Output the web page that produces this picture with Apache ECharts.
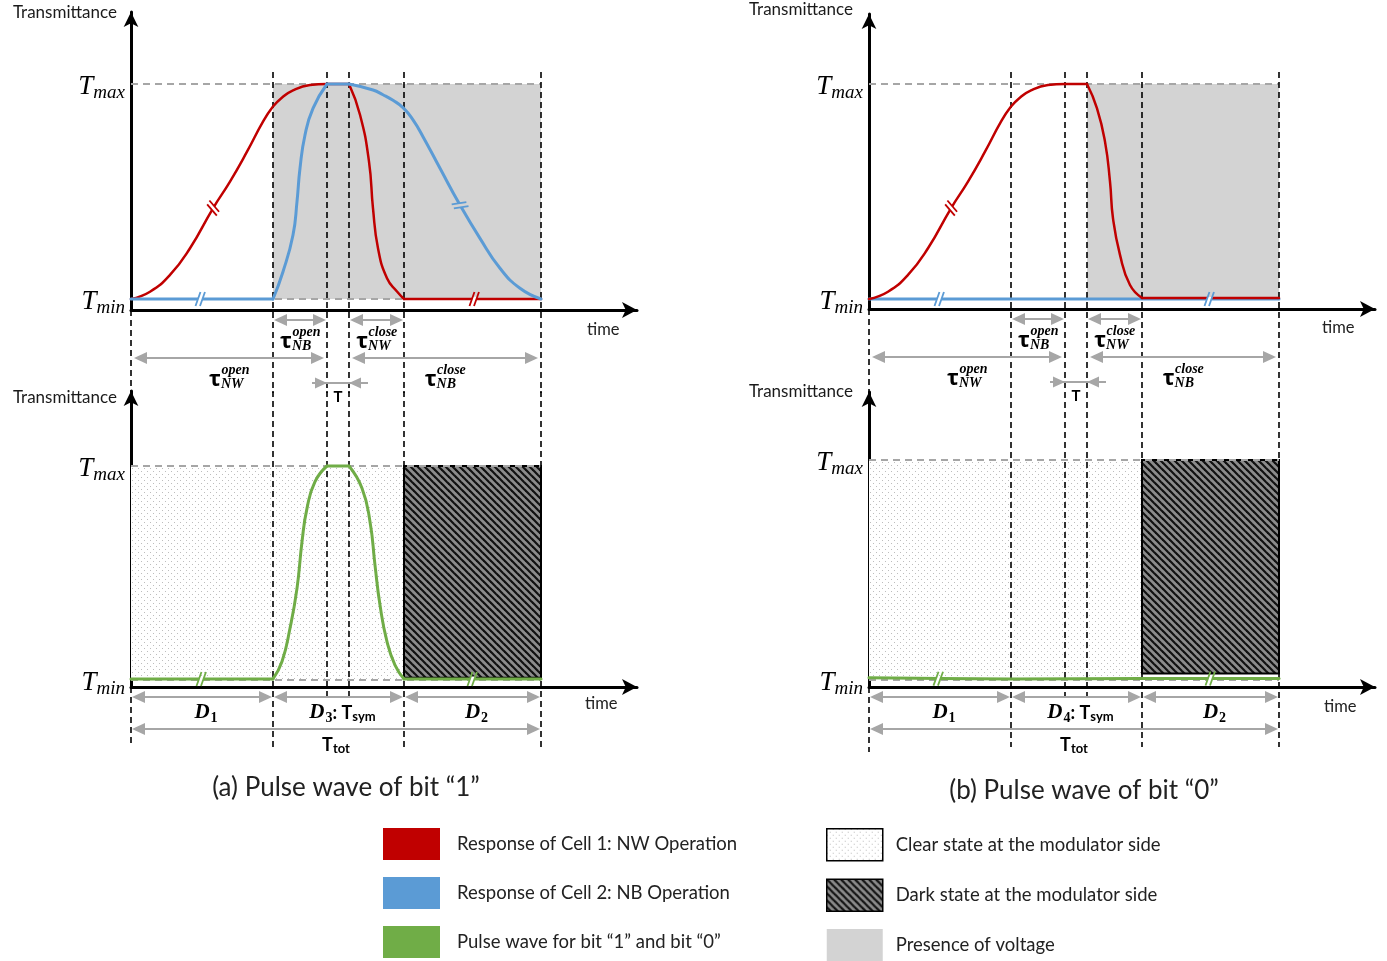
<!DOCTYPE html>
<html>
<head>
<meta charset="utf-8">
<title>Pulse waves</title>
<script src="https://cdn.jsdelivr.net/npm/echarts@6.0.0/dist/echarts.min.js"></script>
<style>
html, body { margin: 0; padding: 0; background: #fff; }
#chart { width: 1387px; height: 961px; }
</style>
</head>
<body>
<div id="chart"></div>
<script>
// time in arbitrary units, transmittance in % of the range (0 = T_min, 100 = T_max)
var timeMarks = [0, 142, 196, 218, 273, 410];
var timeEnd = 506;

// (a) bit "1"
var nwCurveA = [[0, 0], [19, 3.4], [39, 11.2], [59, 23.6], [82, 42.2], [99, 54.6], [116, 68.5], [132, 82.5], [142, 89.5], [150, 93.3], [162, 97], [179, 99.5], [196, 100],
	[218, 100], [229, 85.7], [238, 63.9], [242, 42.2], [247, 23.6], [256, 9.6], [266, 3.5], [273, 0], [410, 0]];
var nbCurveA = [[0, 0], [142, 0], [152, 12.7], [162, 29.8], [166, 45.3], [169, 60.8], [174, 76.3], [182, 88.7], [196, 100],
	[218, 100], [242, 97.2], [252, 95], [262, 92.4], [272, 89], [282, 83.3], [292, 75.5], [309, 60.8], [329, 43.7], [349, 28.2], [369, 14.3], [389, 5], [410, 0]];
var pulseA = [[0, 0.5], [142, 0.5], [151, 8.6], [159, 24.2], [166, 42.8], [171, 64.6], [176, 80.2], [184, 92.7], [196, 100],
	[218, 100], [231, 89.6], [239, 74], [244, 53.7], [249, 35], [256, 17.9], [264, 7], [273, 0.5], [410, 0.5]];
// (b) bit "0"
var nwCurveB = [[0, 0], [19, 3.4], [39, 11.2], [59, 23.6], [82, 42.2], [99, 54.6], [116, 68.5], [132, 82.5], [142, 89.5], [150, 93.3], [162, 97], [179, 99.5], [196, 100],
	[218, 100], [228, 88.7], [236, 73.2], [241, 54.6], [244, 37.5], [251, 20.5], [261, 6.5], [273, 0.5], [410, 0.5]];
var nbCurveB = [[0, 0], [410, 0]];
var pulseB = [[0, 1], [142, 0.5], [273, 0.7], [410, 0.7]];

// regions: [from, to, low, high]
var voltageA = [[142, 410, 0, 100]];
var voltageB = [[218, 410, 0, 100]];
var clearA = [[0, 273, 0, 100]];
var clearB = [[0, 273, 0, 100]];
var darkA = [[273, 410, 1, 100]];
var darkB = [[273, 410, 3, 100]];
var levels = [0, 100];

// break marks on the curves: [time, value]
var breaksNwA = [[82, 42.2], [343, 0]];
var breaksNbA = [[69, 0], [329, 43.7]];
var breaksPulseA = [[70, 0.5], [341, 0.5]];
var breaksNwB = [[82, 42.2]];
var breaksNbB = [[70, 0], [340, 0]];
var breaksPulseB = [[69, 0.6], [341, 0.7]];

// annotations
var tauSpans = [[142, 196], [218, 273], [0, 196], [218, 410]];
var tauSups = ['open', 'close', 'open', 'close'];
var tauSubs = ['NB', 'NW', 'NW', 'NB'];
var symbolSpan = [[196, 218]];
var dSpans = [[0, 142], [142, 273], [273, 410]];
var dIndexA = ['1', '3', '2'];
var dIndexB = ['1', '4', '2'];
var totalSpan = [[0, 410]];

var NAMES = {
	nw: 'Response of Cell 1: NW Operation',
	nb: 'Response of Cell 2: NB Operation',
	pulse: 'Pulse wave for bit \u201c1\u201d and bit \u201c0\u201d',
	clear: 'Clear state at the modulator side',
	dark: 'Dark state at the modulator side',
	volt: 'Presence of voltage'
};

var FONT = 'Lato';
var SERIF = 'Liberation Serif';
var RED = '#c00000', BLUE = '#5b9bd5', GREEN = '#70ad47', VOLT = '#d3d3d3', GUIDE = '#a6a6a6';

// pixel layout of the four panels
var panels = [
	{ left: 131, axisY: 310, tminY: 299, tmaxY: 84, tipY: 12, nameX: 117, nameY: 13, timeX: 587, timeY: 331 },
	{ left: 131, axisY: 687, tminY: 680, tmaxY: 466, tipY: 391, nameX: 117, nameY: 398, timeX: 585, timeY: 705 },
	{ left: 869, axisY: 309, tminY: 299, tmaxY: 84, tipY: 14, nameX: 853, nameY: 10, timeX: 1322, timeY: 329 },
	{ left: 869, axisY: 687, tminY: 680, tmaxY: 460, tipY: 392, nameX: 853, nameY: 392, timeX: 1324, timeY: 708 }
];
var AXIS_W = 506;
panels.forEach(function(p) {
	p.ppu = (p.tminY - p.tmaxY) / 100;
	p.top = p.tipY;
	p.height = p.axisY - p.top;
	p.yMin = -(p.axisY - p.tminY) / p.ppu;
	p.yMax = (p.tminY - p.top) / p.ppu;
});

function makePattern(size, bg, draw) {
	var c = document.createElement('canvas');
	c.width = c.height = size;
	var ctx = c.getContext('2d');
	ctx.fillStyle = bg;
	ctx.fillRect(0, 0, size, size);
	draw(ctx, size);
	return { image: c, repeat: 'repeat' };
}
var dotFill = makePattern(6, '#ffffff', function(ctx) {
	ctx.fillStyle = '#bdbdbd';
	ctx.fillRect(0, 0, 1, 1);
	ctx.fillRect(3, 3, 1, 1);
});
var hatchFill = makePattern(7, '#8c8c8c', function(ctx, s) {
	ctx.strokeStyle = '#111';
	ctx.lineWidth = 2.2;
	[-s, 0, s].forEach(function(o) {
		ctx.beginPath();
		ctx.moveTo(o - 1, -1);
		ctx.lineTo(o + s + 1, s + 1);
		ctx.stroke();
	});
});

var measureCtx = document.createElement('canvas').getContext('2d');
function textWidth(str, font) {
	measureCtx.font = font;
	return measureCtx.measureText(str).width;
}

// split a curve where it turns flat so every piece is smoothed on its own
function pieces(curve) {
	var out = [], cur = [curve[0]];
	for (var k = 1; k < curve.length; k++) {
		var flat = curve[k][1] === curve[k - 1][1];
		var prevFlat = cur.length > 1 && cur[cur.length - 1][1] === cur[cur.length - 2][1];
		if (cur.length > 1 && flat !== prevFlat) {
			out.push(cur);
			cur = [curve[k - 1]];
		}
		cur.push(curve[k]);
	}
	out.push(cur);
	return out;
}

function arrowShapes(x1, x2, y, headL, headW) {
	return [
		{ type: 'line', shape: { x1: x1 + headL - 1, y1: y, x2: x2 - headL + 1, y2: y }, style: { stroke: GUIDE, lineWidth: 2 } },
		{ type: 'polygon', shape: { points: [[x1, y], [x1 + headL, y - headW], [x1 + headL, y + headW]] }, style: { fill: GUIDE } },
		{ type: 'polygon', shape: { points: [[x2, y], [x2 - headL, y - headW], [x2 - headL, y + headW]] }, style: { fill: GUIDE } }
	];
}

var tauFont = 'bold 22px "Open Sans"';
var smallFont = 'italic bold 14px "Liberation Serif"';
function tauLabel(cx, y, sup, sub) {
	var wT = textWidth('\u03c4', tauFont);
	var wS = Math.max(textWidth(sup, smallFont), textWidth(sub, smallFont));
	var left = cx - (wT + wS) / 2;
	return [
		{ type: 'text', style: { text: '\u03c4', x: left, y: y + 22, font: tauFont, fill: '#000', align: 'left', verticalAlign: 'middle' } },
		{ type: 'text', style: { text: sup, x: left + wT + 0.5, y: y + 12, font: smallFont, fill: '#000', align: 'left', verticalAlign: 'middle' } },
		{ type: 'text', style: { text: sub, x: left + wT, y: y + 26, font: smallFont, fill: '#000', align: 'left', verticalAlign: 'middle' } }
	];
}

var mathRich = {
	d: { fontFamily: SERIF, fontStyle: 'italic', fontWeight: 'bold', fontSize: 21, fill: '#000' },
	n: { fontFamily: SERIF, fontWeight: 'bold', fontSize: 14, fill: '#000', padding: [10, 0, 0, 1] },
	c: { fontFamily: FONT, fontWeight: 'bold', fontSize: 18, fill: '#000' },
	cs: { fontFamily: FONT, fontWeight: 'bold', fontSize: 13, fill: '#000', padding: [7, 0, 0, 0] }
};

function regionSeries(i, name, rects, fill, stroke) {
	return {
		type: 'custom', name: name, xAxisIndex: i, yAxisIndex: i, data: rects, z: 1, silent: true,
		itemStyle: { color: fill }, encode: { x: [0, 1], y: [2, 3] },
		renderItem: function(params, api) {
			var a = api.coord([api.value(0), api.value(3)]);
			var b = api.coord([api.value(1), api.value(2)]);
			return {
				type: 'rect',
				shape: { x: a[0], y: a[1], width: b[0] - a[0], height: b[1] - a[1] },
				style: { fill: fill, stroke: stroke || null, lineWidth: stroke ? 2 : 0 }
			};
		}
	};
}

function levelSeries(i) {
	return {
		type: 'custom', xAxisIndex: i, yAxisIndex: i, z: 2, silent: true,
		data: levels.map(function(v) { return [timeMarks[0], timeMarks[5], v]; }),
		encode: { x: [0, 1], y: 2 },
		renderItem: function(params, api) {
			var a = api.coord([api.value(0), api.value(2)]);
			var b = api.coord([api.value(1), api.value(2)]);
			return { type: 'line', shape: { x1: a[0], y1: a[1], x2: b[0], y2: b[1] }, style: { stroke: GUIDE, lineWidth: 1.8, lineDash: [7, 5] } };
		}
	};
}

function verticalSeries(i) {
	var p = panels[i];
	var isTop = i % 2 === 0;
	return {
		type: 'custom', xAxisIndex: i, yAxisIndex: i, z: 3, silent: true, clip: false,
		data: timeMarks.map(function(t) { return [t, 0]; }),
		renderItem: function(params, api) {
			var t = api.value(0);
			var x = api.coord([t, 0])[0];
			var y1, y2;
			if (isTop) {
				y1 = t === timeMarks[0] ? p.axisY : api.coord([t, 100])[1] - 12;
				y2 = p.axisY + 83;
			} else {
				y1 = t === timeMarks[0] ? p.axisY : p.top;
				var inner = t === timeMarks[2] || t === timeMarks[3];
				y2 = p.axisY + (inner ? 10 : (t === timeMarks[0] && i === 3 ? 65 : 60));
			}
			return { type: 'line', shape: { x1: x, y1: y1, x2: x, y2: y2 }, style: { stroke: '#000', lineWidth: 1.6, lineDash: [6, 4] } };
		}
	};
}

function curveSeries(i, name, curve, color, width, z) {
	return pieces(curve).map(function(seg) {
		return {
			type: 'line', name: name, xAxisIndex: i, yAxisIndex: i, data: seg, z: z,
			smooth: 0.5, symbol: 'none', silent: true,
			lineStyle: { color: color, width: width, cap: 'round', join: 'round' }, itemStyle: { color: color }
		};
	});
}

function breakSeries(i, curve, points, color, width, voltage) {
	return {
		type: 'custom', xAxisIndex: i, yAxisIndex: i, data: points, z: 6, silent: true, clip: false,
		renderItem: function(params, api) {
			var t = api.value(0), v = api.value(1);
			var p = api.coord([t, v]);
			var k = 1;
			while (k < curve.length - 1 && curve[k][0] < t) k++;
			var a = api.coord(curve[k - 1]), b = api.coord(curve[k]);
			var ang = Math.atan2(b[1] - a[1], b[0] - a[0]);
			var inVolt = voltage && voltage.some(function(r) { return t >= r[0] && t <= r[1] && v > 2; });
			var h = width / 2 + 1;
			var gap = 4.5;
			var xs = function(y) { return -gap + (7 - y) * gap / 14 * 1.1; };
			return {
				type: 'group', x: p[0], y: p[1], rotation: -ang,
				children: [
					{ type: 'polygon', shape: { points: [[xs(h), h], [xs(-h), -h], [xs(-h) + gap, -h], [xs(h) + gap, h]] }, style: { fill: inVolt ? VOLT : '#fff' } },
					{ type: 'line', shape: { x1: xs(7), y1: 7, x2: xs(-7), y2: -7 }, style: { stroke: color, lineWidth: 1.8 } },
					{ type: 'line', shape: { x1: xs(7) + gap, y1: 7, x2: xs(-7) + gap, y2: -7 }, style: { stroke: color, lineWidth: 1.8 } }
				]
			};
		}
	};
}

function tauSeries(i) {
	var p = panels[i];
	var rows = [10, 10, 48, 48];
	var insets = [1, 1, 3, 3];
	return {
		type: 'custom', xAxisIndex: i, yAxisIndex: i, data: tauSpans, z: 3, silent: true, clip: false,
		renderItem: function(params, api) {
			var k = params.dataIndex;
			var x1 = api.coord([api.value(0), 0])[0] + insets[k];
			var x2 = api.coord([api.value(1), 0])[0] - insets[k];
			var y = p.axisY + rows[k];
			return { type: 'group', children: arrowShapes(x1, x2, y, 13, 6).concat(tauLabel((x1 + x2) / 2, y, tauSups[k], tauSubs[k])) };
		}
	};
}

function symbolSeries(i) {
	var p = panels[i];
	return {
		type: 'custom', xAxisIndex: i, yAxisIndex: i, data: symbolSpan, z: 3, silent: true, clip: false,
		renderItem: function(params, api) {
			var x1 = api.coord([api.value(0), 0])[0];
			var x2 = api.coord([api.value(1), 0])[0];
			var y = p.axisY + 73;
			return {
				type: 'group',
				children: [
					{ type: 'line', shape: { x1: x1 - 15, y1: y, x2: x2 + 19, y2: y }, style: { stroke: GUIDE, lineWidth: 2 } },
					{ type: 'polygon', shape: { points: [[x1, y], [x1 - 12, y - 5.5], [x1 - 12, y + 5.5]] }, style: { fill: GUIDE } },
					{ type: 'polygon', shape: { points: [[x2, y], [x2 + 12, y - 5.5], [x2 + 12, y + 5.5]] }, style: { fill: GUIDE } },
					{ type: 'text', style: { text: 'T', x: (x1 + x2) / 2, y: y + 14, font: 'bold 15px Lato', fill: '#000', align: 'center', verticalAlign: 'middle' } }
				]
			};
		}
	};
}

function dSeries(i, idx) {
	var p = panels[i];
	return {
		type: 'custom', xAxisIndex: i, yAxisIndex: i, data: dSpans, z: 3, silent: true, clip: false,
		renderItem: function(params, api) {
			var k = params.dataIndex;
			var x1 = api.coord([api.value(0), 0])[0] + 1;
			var x2 = api.coord([api.value(1), 0])[0] - 1;
			var y = p.axisY + 10;
			var txt = '{d|D}{n|' + idx[k] + '}' + (k === 1 ? '{c|: T}{cs|sym}' : '');
			return {
				type: 'group',
				children: arrowShapes(x1, x2, y, 13, 6).concat([
					{ type: 'text', style: { text: txt, rich: mathRich, x: (x1 + x2) / 2 + 4, y: y + 16, align: 'center', verticalAlign: 'middle', fill: '#000' } }
				])
			};
		}
	};
}

function totalSeries(i) {
	var p = panels[i];
	return {
		type: 'custom', xAxisIndex: i, yAxisIndex: i, data: totalSpan, z: 3, silent: true, clip: false,
		renderItem: function(params, api) {
			var x1 = api.coord([api.value(0), 0])[0] + 1;
			var x2 = api.coord([api.value(1), 0])[0] - 1;
			var y = p.axisY + 42;
			return {
				type: 'group',
				children: arrowShapes(x1, x2, y, 13, 6).concat([
					{ type: 'text', style: { text: '{c|T}{cs|tot}', rich: mathRich, x: (x1 + x2) / 2, y: y + 16, align: 'center', verticalAlign: 'middle', fill: '#000' } }
				])
			};
		}
	};
}

var levelRich = {
	t: { fontFamily: SERIF, fontStyle: 'italic', fontSize: 27, color: '#000', padding: [6, 0, 0, 0] },
	s: { fontFamily: SERIF, fontStyle: 'italic', fontSize: 19, color: '#000', padding: [18, 0, 0, 0] }
};

var legendText = function(pad) {
	return { fontSize: 18.5, color: '#222', fontFamily: FONT, rich: { a: { fontSize: 18.5, color: '#222', fontFamily: FONT, padding: [0, 0, 0, pad] } } };
};

var option = {
	backgroundColor: '#fff',
	animation: false,
	textStyle: { fontFamily: FONT },
	title: [
		{ text: '(a) Pulse wave of bit \u201c1\u201d', left: 341, top: 770, textAlign: 'center',
			textStyle: { fontFamily: FONT, fontSize: 26, fontWeight: 'normal', color: '#222' } },
		{ text: '(b) Pulse wave of bit \u201c0\u201d', left: 1079, top: 773, textAlign: 'center',
			textStyle: { fontFamily: FONT, fontSize: 26, fontWeight: 'normal', color: '#222' } }
	],
	graphic: panels.map(function(p) {
		return { type: 'text', left: p.timeX, top: p.timeY - 10, silent: true,
			style: { text: 'time', font: '16.5px Lato', fill: '#222' } };
	}),
	legend: [
		{
			left: 383, top: 828, padding: 0, orient: 'vertical', itemWidth: 57, itemHeight: 32, itemGap: 17, icon: 'rect', selectedMode: false,
			formatter: '{a|{name}}', textStyle: legendText(12),
			data: [
				{ name: NAMES.nw, itemStyle: { color: RED, borderWidth: 0 } },
				{ name: NAMES.nb, itemStyle: { color: BLUE, borderWidth: 0 } },
				{ name: NAMES.pulse, itemStyle: { color: GREEN, borderWidth: 0 } }
			]
		},
		{
			left: 826, top: 828, padding: 0, orient: 'vertical', itemWidth: 56, itemHeight: 32, itemGap: 17, icon: 'rect', selectedMode: false,
			formatter: '{a|{name}}', textStyle: legendText(8),
			data: [
				{ name: NAMES.clear, itemStyle: { color: dotFill, borderColor: '#000', borderWidth: 1.5 } },
				{ name: NAMES.dark, itemStyle: { color: hatchFill, borderColor: '#000', borderWidth: 1.5 } },
				{ name: NAMES.volt, itemStyle: { color: VOLT, borderWidth: 0 } }
			]
		}
	],
	grid: panels.map(function(p) {
		return { left: p.left, top: p.top, width: AXIS_W, height: p.height, containLabel: false, outerBoundsMode: 'none' };
	}),
	xAxis: panels.map(function(p, i) {
		return {
			gridIndex: i, type: 'value', min: 0, max: timeEnd,
			axisLine: { onZero: false, symbol: ['none', 'arrow'], symbolSize: [12, 15], lineStyle: { color: '#000', width: 3 } },
			axisTick: { show: false }, axisLabel: { show: false }, splitLine: { show: false }
		};
	}),
	yAxis: panels.map(function(p, i) {
		return {
			gridIndex: i, type: 'value', min: p.yMin, max: p.yMax,
			axisLine: { onZero: false, symbol: ['none', 'arrow'], symbolSize: [11, 15], lineStyle: { color: '#000', width: 3 } },
			axisTick: { show: false }, splitLine: { show: false },
			axisLabel: {
				customValues: levels, margin: 6,
				formatter: function(v) { return v === 0 ? '{t|T}{s|min}' : (v === 100 ? '{t|T}{s|max}' : ''); },
				rich: levelRich
			},
			name: 'Transmittance', nameLocation: 'end', nameGap: p.top - p.nameY,
			nameTextStyle: { fontSize: 17, color: '#1a1a1a', align: 'right', verticalAlign: 'middle', padding: [0, p.left - p.nameX, 0, 0] }
		};
	}),
	series: [].concat(
		// (a) top
		regionSeries(0, NAMES.volt, voltageA, VOLT),
		levelSeries(0),
		verticalSeries(0),
		curveSeries(0, NAMES.nw, nwCurveA, RED, 2.5, 4),
		curveSeries(0, NAMES.nb, nbCurveA, BLUE, 3, 5),
		breakSeries(0, nwCurveA, breaksNwA, RED, 2.5, voltageA),
		breakSeries(0, nbCurveA, breaksNbA, BLUE, 3, voltageA),
		tauSeries(0),
		symbolSeries(0),
		// (a) bottom
		regionSeries(1, NAMES.clear, clearA, dotFill),
		regionSeries(1, NAMES.dark, darkA, hatchFill, '#000'),
		levelSeries(1),
		verticalSeries(1),
		curveSeries(1, NAMES.pulse, pulseA, GREEN, 3, 4),
		breakSeries(1, pulseA, breaksPulseA, GREEN, 3),
		dSeries(1, dIndexA),
		totalSeries(1),
		// (b) top
		regionSeries(2, NAMES.volt, voltageB, VOLT),
		levelSeries(2),
		verticalSeries(2),
		curveSeries(2, NAMES.nb, nbCurveB, BLUE, 3, 4),
		curveSeries(2, NAMES.nw, nwCurveB, RED, 2.5, 5),
		breakSeries(2, nwCurveB, breaksNwB, RED, 2.5, voltageB),
		breakSeries(2, nbCurveB, breaksNbB, BLUE, 3, voltageB),
		tauSeries(2),
		symbolSeries(2),
		// (b) bottom
		regionSeries(3, NAMES.clear, clearB, dotFill),
		regionSeries(3, NAMES.dark, darkB, hatchFill, '#000'),
		levelSeries(3),
		verticalSeries(3),
		curveSeries(3, NAMES.pulse, pulseB, GREEN, 3, 4),
		breakSeries(3, pulseB, breaksPulseB, GREEN, 3),
		dSeries(3, dIndexB),
		totalSeries(3)
	)
};

var chart = echarts.init(document.getElementById('chart'));
chart.setOption(option);
</script>
</body>
</html>
